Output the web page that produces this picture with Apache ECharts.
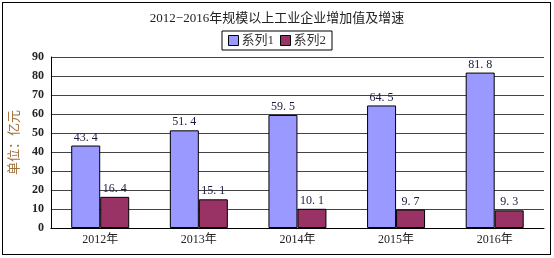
<!DOCTYPE html>
<html lang="zh">
<head>
<meta charset="UTF-8">
<title>规模以上工业企业增加值及增速</title>
<script src="https://cdn.jsdelivr.net/npm/echarts@6/dist/echarts.min.js"></script>
<style>
  html, body { margin: 0; padding: 0; background: #fff; }
  #frame { position: absolute; left: 2px; top: 2px; width: 547px; height: 251px; border: 1px solid #000; }
  #main { position: absolute; left: 0; top: 0; width: 554px; height: 258px; }
</style>
</head>
<body>
<div id="frame"></div>
<div id="main"></div>
<script>
// 数据
var years = ['2012年', '2013年', '2014年', '2015年', '2016年'];
var series1 = [43.4, 51.4, 59.5, 64.5, 81.8];
var series2 = [16.4, 15.1, 10.1, 9.7, 9.3];
var seriesNames = ['系列1', '系列2'];

var fontFam = '"Liberation Serif", "Noto Sans CJK SC", serif';

var myChart = echarts.init(document.getElementById('main'));

function lbl(p) {
    return p.value.toFixed(1).replace('.', '. ');
}

myChart.setOption({
    animation: false,
    title: {
        text: '2012−2016年规模以上工业企业增加值及增速',
        left: 'center',
        top: 7,
        textStyle: { fontSize: 13, fontWeight: 'normal', color: '#222', fontFamily: fontFam }
    },
    legend: {
        data: seriesNames,
        top: 31,
        left: 'center',
        icon: 'rect',
        itemWidth: 10,
        itemHeight: 10,
        itemGap: 6,
        padding: [3, 6],
        borderColor: '#000',
        borderWidth: 1,
        itemStyle: { borderColor: '#000', borderWidth: 1 },
        textStyle: { fontSize: 13, color: '#333', fontFamily: fontFam, padding: [0, 0, 0, -2] }
    },
    grid: { left: 48, right: 10, top: 57, bottom: 30 },
    xAxis: {
        type: 'category',
        data: years,
        axisLine: { lineStyle: { color: '#000' } },
        axisTick: { inside: true, length: 5, lineStyle: { color: '#000' } },
        axisLabel: { color: '#222', fontSize: 12, fontFamily: fontFam, margin: 6 }
    },
    yAxis: {
        type: 'value',
        min: 0,
        max: 90,
        interval: 10,
        name: '单位：亿元',
        nameLocation: 'middle',
        nameGap: 28,
        nameTextStyle: { color: '#A0703A', fontSize: 13, fontFamily: fontFam },
        axisLine: { show: true, lineStyle: { color: '#000' } },
        axisTick: { show: false },
        axisLabel: { color: '#222', fontSize: 12, fontWeight: 'bold', fontFamily: fontFam, margin: 7 },
        splitLine: { lineStyle: { color: '#444', width: 1 } }
    },
    series: [{
        name: seriesNames[0],
        type: 'bar',
        data: series1,
        barWidth: 29,
        barGap: '0%',
        itemStyle: { color: '#9999FF', borderColor: '#000', borderWidth: 1 },
        label: { show: true, position: 'top', distance: 2, formatter: lbl, color: '#1a1a40', fontSize: 12, fontFamily: fontFam }
    }, {
        name: seriesNames[1],
        type: 'bar',
        data: series2,
        barWidth: 29,
        itemStyle: { color: '#993366', borderColor: '#000', borderWidth: 1 },
        label: { show: true, position: 'top', distance: 2, formatter: lbl, color: '#1a1a40', fontSize: 12, fontFamily: fontFam }
    }]
});
</script>
</body>
</html>
